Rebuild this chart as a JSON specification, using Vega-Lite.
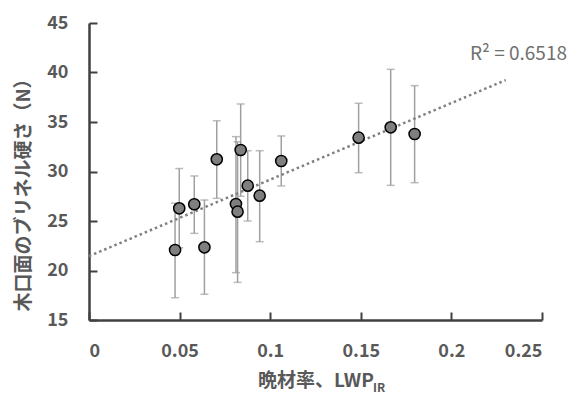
{
  "$schema": "https://vega.github.io/schema/vega-lite/v6.json",
  "autosize": "none",
  "padding": {"left": 89, "top": 23, "right": 27, "bottom": 76},
  "width": 453,
  "height": 297,
  "background": "white",
  "config": {
    "view": {"stroke": null},
    "font": "Noto Sans CJK JP",
    "axis": {
      "grid": false,
      "domainColor": "#404040",
      "domainWidth": 2.5,
      "tickColor": "#404040",
      "tickWidth": 2,
      "tickSize": -8,
      "labelFont": "Noto Sans CJK JP",
      "labelFontSize": 18,
      "labelFontWeight": "bold",
      "labelColor": "#595959",
      "titleFont": "Noto Sans CJK JP",
      "titleFontSize": 19,
      "titleFontWeight": "bold",
      "titleColor": "#595959"
    }
  },
  "datasets": {
    "pts": [
      {"x": 0.0475, "y": 22.07, "lo": 17.25, "hi": 26.8},
      {"x": 0.0498, "y": 26.28, "lo": 22.3, "hi": 30.3},
      {"x": 0.0581, "y": 26.69, "lo": 23.75, "hi": 29.55},
      {"x": 0.0637, "y": 22.34, "lo": 17.6, "hi": 27.12},
      {"x": 0.0705, "y": 31.23, "lo": 27.29, "hi": 35.13},
      {"x": 0.0811, "y": 26.72, "lo": 19.78, "hi": 33.52},
      {"x": 0.0820, "y": 25.94, "lo": 18.8, "hi": 33.0},
      {"x": 0.0837, "y": 32.17, "lo": 27.5, "hi": 36.82},
      {"x": 0.0876, "y": 28.57, "lo": 25.0, "hi": 32.1},
      {"x": 0.0942, "y": 27.56, "lo": 22.91, "hi": 32.1},
      {"x": 0.1061, "y": 31.06, "lo": 28.54, "hi": 33.59},
      {"x": 0.1488, "y": 33.42, "lo": 29.88, "hi": 36.89},
      {"x": 0.1665, "y": 34.46, "lo": 28.6, "hi": 40.32},
      {"x": 0.1797, "y": 33.79, "lo": 28.87, "hi": 38.67}
    ],
    "notes": [
      {"x": 0.2638, "y": 41.9, "t": "R² = 0.6518"}
    ],
    "sub": [
      {"x": 0.1568, "y": 7.75, "t": "IR"}
    ]
  },
  "layer": [
    {
      "data": {"name": "pts"},
      "mark": {"type": "rule", "color": "#a0a0a0", "strokeWidth": 1.5},
      "encoding": {
        "x": {"field": "x", "type": "quantitative", "scale": {"domain": [0, 0.25], "nice": false},
              "axis": {"values": [0, 0.05, 0.1, 0.15, 0.2, 0.25], "format": "~g", "title": "晩材率、LWP", "labelPadding": 30, "titlePadding": 11, "titleDx": -7}},
        "y": {"field": "lo", "type": "quantitative", "scale": {"domain": [15, 45], "nice": false, "zero": false},
              "axis": {"values": [15, 20, 25, 30, 35, 40, 45], "title": "木口面のブリネル硬さ（N）", "labelPadding": 29, "titlePadding": 13, "titleY": 167}},
        "y2": {"field": "hi"}
      }
    },
    {
      "data": {"name": "pts"},
      "mark": {"type": "tick", "orient": "horizontal", "color": "#a0a0a0", "thickness": 1.5, "size": 8},
      "encoding": {
        "x": {"field": "x", "type": "quantitative"},
        "y": {"field": "hi", "type": "quantitative"}
      }
    },
    {
      "data": {"name": "pts"},
      "mark": {"type": "tick", "orient": "horizontal", "color": "#a0a0a0", "thickness": 1.5, "size": 8},
      "encoding": {
        "x": {"field": "x", "type": "quantitative"},
        "y": {"field": "lo", "type": "quantitative"}
      }
    },
    {
      "data": {"name": "pts"},
      "transform": [{"regression": "y", "on": "x", "extent": [0, 0.23]}],
      "mark": {"type": "line", "color": "#808080", "strokeWidth": 2.5, "strokeDash": [2.5, 3]},
      "encoding": {
        "x": {"field": "x", "type": "quantitative"},
        "y": {"field": "y", "type": "quantitative"}
      }
    },
    {
      "data": {"name": "pts"},
      "mark": {"type": "point", "shape": "circle", "filled": true, "fill": "#7f7f7f", "stroke": "#000000", "strokeWidth": 1.5, "size": 125, "opacity": 1},
      "encoding": {
        "x": {"field": "x", "type": "quantitative"},
        "y": {"field": "y", "type": "quantitative"}
      }
    },
    {
      "data": {"name": "notes"},
      "mark": {"type": "text", "align": "right", "baseline": "middle", "fontSize": 19, "letterSpacing": 1.2, "color": "#707070", "font": "Noto Sans CJK JP"},
      "encoding": {
        "x": {"field": "x", "type": "quantitative"},
        "y": {"field": "y", "type": "quantitative"},
        "text": {"field": "t"}
      }
    },
    {
      "data": {"name": "sub"},
      "mark": {"type": "text", "align": "left", "baseline": "alphabetic", "fontSize": 12, "fontWeight": "bold", "color": "#595959", "font": "Noto Sans CJK JP"},
      "encoding": {
        "x": {"field": "x", "type": "quantitative"},
        "y": {"field": "y", "type": "quantitative"},
        "text": {"field": "t"}
      }
    }
  ]
}
